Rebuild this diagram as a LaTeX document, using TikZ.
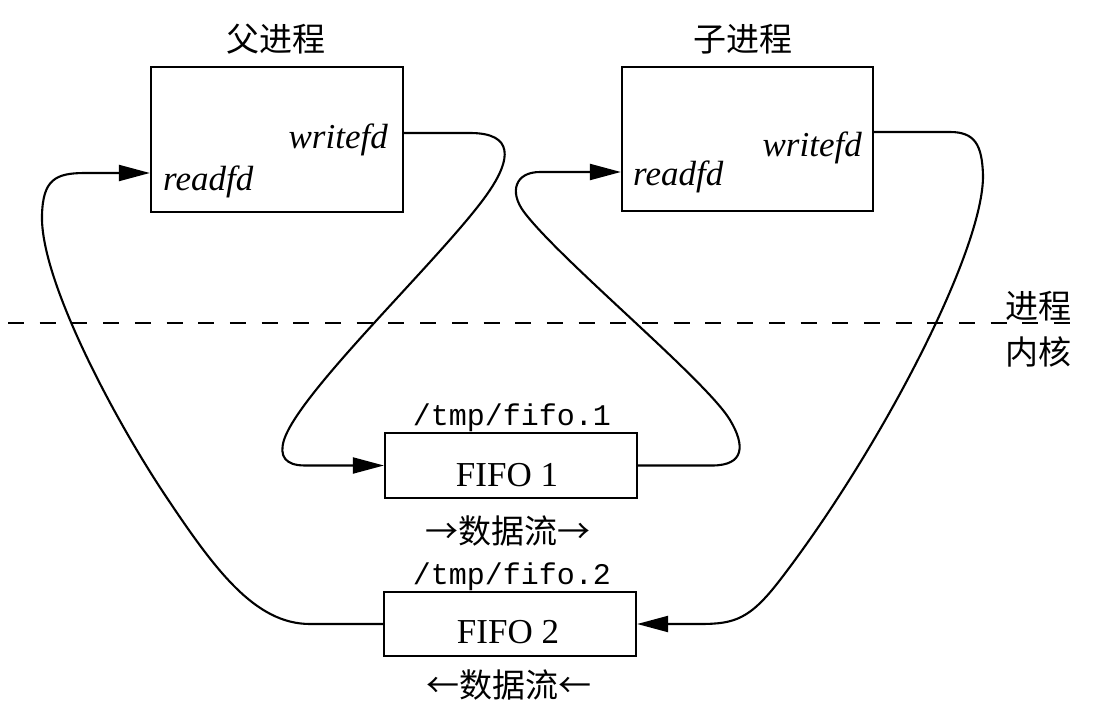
\documentclass[tikz,border=0pt]{standalone}
\usepackage{fontspec}
\setmainfont{Liberation Serif}
\setmonofont{Liberation Mono}
\newfontfamily\cjk{Noto Sans CJK SC}
\usetikzlibrary{arrows.meta}
\begin{document}
\begin{tikzpicture}[x=1pt,y=-1pt,
  box/.style={draw, line width=2.2pt, inner sep=0pt},
  conn/.style={line width=2.1pt},
  tip/.style={-{Triangle[length=31pt,width=16pt]}},
  cjklabel/.style={font=\cjk\fontsize{33}{40}\selectfont, inner sep=0pt},
  fd/.style={font=\itshape\fontsize{35}{42}\selectfont, inner sep=0pt},
  pathlabel/.style={font=\ttfamily\fontsize{30}{36}\selectfont, inner sep=0pt},
  fifotext/.style={font=\fontsize{35}{42}\selectfont, inner sep=0pt},
  sep/.style={line width=2pt, dash pattern=on 16pt off 15.7pt},
]
\useasboundingbox (0,0) rectangle (1093,717);
\fill[white] (0,0) rectangle (1093,717);

% boxes
\node[box, minimum width=252pt, minimum height=145pt] (parent) at (277,139.5) {};
\node[box, minimum width=251pt, minimum height=144pt] (child) at (747.5,139) {};
\node[box, minimum width=252pt, minimum height=65pt] (fifo1) at (511,465.5) {};
\node[box, minimum width=252pt, minimum height=64pt] (fifo2) at (510,624) {};

% labels
\node[cjklabel] (plabel) at (276,39) {父进程};
\node[cjklabel] (clabel) at (743,39) {子进程};
\node[fd, anchor=base east] (pw) at (388,148) {writefd};
\node[fd, anchor=base west] (pr) at (163,190) {readfd};
\node[fd, anchor=base east] (cw) at (862,156) {writefd};
\node[fd, anchor=base west] (cr) at (633,185) {readfd};
\node[fifotext, anchor=base] (f1t) at (507,486) {FIFO 1};
\node[fifotext, anchor=base] (f2t) at (508,643) {FIFO 2};
\node[pathlabel, anchor=base] (p1) at (512,425) {/tmp/fifo.1};
\node[pathlabel, anchor=base] (p2) at (512,584) {/tmp/fifo.2};
\node[cjklabel] (d1) at (508,531) {→数据流→};
\node[cjklabel] (d2) at (509,685) {←数据流←};
\node[cjklabel] (proc) at (1038,306) {进程};
\node[cjklabel] (kern) at (1038,352) {内核};

% separator
\coordinate (dl) at (8,323);
\coordinate (dr) at (1077,323);
\draw[sep] (dl) -- (dr);

% parent writefd -> FIFO 1
\draw[conn,tip] ([yshift=6.5pt]parent.east) -- (470,133)
  .. controls (515,133) and (510,160) .. (490,190)
  .. controls (450,250) and (300,390) .. (284,440)
  .. controls (279,456) and (285,465.5) .. (305,465.5) -- (fifo1.west);

% FIFO 1 -> child readfd
\draw[conn,tip] (fifo1.east) -- (712,465.5)
  .. controls (745,465.5) and (745,445) .. (730,420)
  .. controls (706,380) and (560,260) .. (524,212)
  .. controls (509,192) and (515,172) .. (540,172) -- ([yshift=-33pt]child.west);

% child writefd -> FIFO 2
\draw[conn,tip] ([yshift=7pt]child.east) -- (950,132)
  .. controls (975,132) and (982,145) .. (983,175)
  .. controls (984,250) and (880,450) .. (780,580)
  .. controls (750,619) and (735,624) .. (700,624) -- (fifo2.east);

% FIFO 2 -> parent readfd
\draw[conn,tip] (fifo2.west) -- (310,624)
  .. controls (255,624) and (215,570) .. (165,495)
  .. controls (115,420) and (40,280) .. (42,215)
  .. controls (43,180) and (55,173) .. (85,173) -- ([yshift=-33.5pt]parent.west);
\end{tikzpicture}
\end{document}
